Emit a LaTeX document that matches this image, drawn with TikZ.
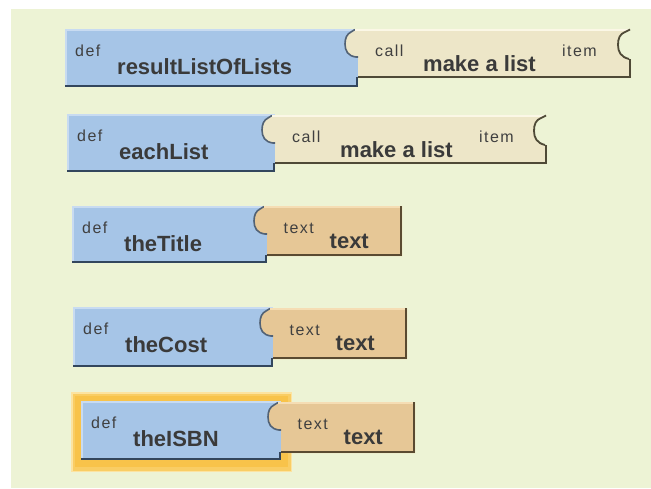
\documentclass[tikz,border=0pt]{standalone}
\usepackage{fontspec}
\setmainfont{Liberation Sans}
\newfontfamily\smallfam[LetterSpace=9]{Liberation Sans}
\definecolor{bg}{HTML}{EDF3D5}
\definecolor{blueF}{HTML}{A6C5E7}
\definecolor{blueLt}{HTML}{C8DBF1}
\definecolor{blueDk}{HTML}{33465D}
\definecolor{creamF}{HTML}{EDE6C8}
\definecolor{creamLt}{HTML}{FBF7E6}
\definecolor{creamDk}{HTML}{4F4A37}
\definecolor{tanF}{HTML}{E6C796}
\definecolor{tanLt}{HTML}{F5DDB4}
\definecolor{tanDk}{HTML}{5A4A31}
\definecolor{glowA}{HTML}{FCE3A0}
\definecolor{glowB}{HTML}{F8C34A}
\definecolor{smallT}{HTML}{404040}
\definecolor{bigT}{HTML}{3A3A3A}
\tikzset{
  deflab/.style={anchor=base west, inner sep=0pt, text=smallT, font=\smallfam\fontsize{16}{18}\selectfont},
  namelab/.style={anchor=base west, inner sep=0pt, text=bigT, font=\bfseries\fontsize{22}{24}\selectfont},
}
% blue "def" part: #1 id, #2 x0, #3 xs, #4 y0, #5 y1, #6 bottom of value part, #7 name
\newcommand\defpart[7]{%
  \fill[blueF] (#2,#4) rectangle (#3,#5);
  \draw[blueLt, line width=1.5pt] ({#2+0.75},{#5-2}) -- ({#2+0.75},{#4+0.75}) -- (#3,{#4+0.75});
  \draw[blueDk, line width=2pt] ({#3-1},{#6-1}) -- ({#3-1},#5);
  \draw[blueDk, line width=2.5pt] (#2,{#5-1.25}) -- (#3,{#5-1.25});
  \node[deflab] (#1def) at ({#2+10},{#4+27.5}) {def};
  \node[namelab] (#1name) at ({#2+52},{#4+45.5}) {#7};
}
% plug outline (on the left of a value part): #1 xs, #2 t, #3 colour
\newcommand\plugline[3]{%
  \draw[#3, line width=1.6pt, line join=round] (#1,{#2+28}) -- ({#1-2},{#2+28}) .. controls ({#1-10},{#2+27}) and ({#1-13},{#2+22}) .. ({#1-13},{#2+15}) .. controls ({#1-13},{#2+9}) and ({#1-11},{#2+5}) .. ({#1-7},{#2+3}) -- ({#1-3},{#2+0.5});
}
% text value part: #1 id, #2 xs, #3 xe, #4 t, #5 b
\newcommand\textval[5]{%
  \fill[tanF] (#2,#4) -- (#3,#4) -- (#3,#5) -- (#2,#5) -- (#2,{#4+28}) -- ({#2-2},{#4+28}) .. controls ({#2-10},{#4+27}) and ({#2-13},{#4+22}) .. ({#2-13},{#4+15}) .. controls ({#2-13},{#4+9}) and ({#2-11},{#4+5}) .. ({#2-7},{#4+3}) -- ({#2-3},#4) -- cycle;
  \plugline{#2}{#4}{blueDk!85}
  \draw[tanLt, line width=1.5pt] ({#2-3},{#4+0.75}) -- ({#3-1},{#4+0.75});
  \draw[tanDk, line width=2pt] ({#3-1},#4) -- ({#3-1},#5);
  \draw[tanDk, line width=2.5pt] (#2,{#5-1.25}) -- (#3,{#5-1.25});
  \node[deflab] (#1small) at ({#2+16.5},{#4+27}) {text};
  \node[namelab] (#1big) at ({#2+62.5},{#4+42.5}) {text};
}
% list value part: #1 id, #2 xs, #3 xe, #4 t, #5 b
\newcommand\listval[5]{%
  \fill[creamF] (#2,#4) -- ({#3-1},#4) -- ({#3-6},{#4+3}) .. controls ({#3-11},{#4+5}) and ({#3-13},{#4+9}) .. ({#3-13},{#4+16}) .. controls ({#3-13},{#4+23}) and ({#3-10},{#4+28}) .. ({#3-2},{#4+30}) -- (#3,{#4+30}) -- (#3,#5) -- (#2,#5) -- (#2,{#4+28}) -- ({#2-2},{#4+28}) .. controls ({#2-10},{#4+27}) and ({#2-13},{#4+22}) .. ({#2-13},{#4+15}) .. controls ({#2-13},{#4+9}) and ({#2-11},{#4+5}) .. ({#2-7},{#4+3}) -- ({#2-3},#4) -- cycle;
  \plugline{#2}{#4}{blueDk!85}
  \draw[creamLt, line width=1.5pt] ({#2-3},{#4+0.75}) -- ({#3-2},{#4+0.75});
  \draw[creamDk, line width=1.8pt, line join=round] ({#3-1},{#4+0.5}) -- ({#3-6},{#4+3}) .. controls ({#3-11},{#4+5}) and ({#3-13},{#4+9}) .. ({#3-13},{#4+16}) .. controls ({#3-13},{#4+23}) and ({#3-10},{#4+28}) .. ({#3-2},{#4+30});
  \draw[creamDk, line width=2pt] ({#3-1},{#4+30}) -- ({#3-1},#5);
  \draw[creamDk, line width=2.5pt] (#2,{#5-1.25}) -- (#3,{#5-1.25});
  \node[deflab] (#1call) at ({#2+17},{#4+27}) {call};
  \node[namelab] (#1make) at ({#2+65},{#4+42.5}) {make a list};
  \node[deflab] (#1item) at ({#2+204},{#4+27}) {item};
}
\begin{document}
\begin{tikzpicture}[x=1pt, y=-1pt]
\useasboundingbox (0,0) rectangle (651,488);
\fill[white] (0,0) rectangle (651,488);
\fill[bg] (11,9) rectangle (651,488);
% highlight glow around the selected block
\fill[glowA] (71,392) rectangle (292,472);
\fill[glowB!70!glowA] (72.5,393.5) rectangle (290.5,470.5);
\fill[glowB] (75,396) rectangle (288,467);
% block 1
\defpart{a}{65}{358}{29}{87}{78}{resultListOfLists}
\listval{a}{358}{631}{29}{78}
% block 2
\defpart{b}{67}{275}{114}{172}{164}{eachList}
\listval{b}{275}{547}{115}{164}
% block 3
\defpart{c}{72}{267}{206}{263}{256}{theTitle}
\textval{c}{267}{402}{206}{256}
% block 4
\defpart{d}{73}{273}{307}{367}{359}{theCost}
\textval{d}{273}{407}{308}{359}
% block 5
\defpart{e}{81}{281}{401}{460}{453}{theISBN}
\textval{e}{281}{415}{402}{453}
\end{tikzpicture}
\end{document}
